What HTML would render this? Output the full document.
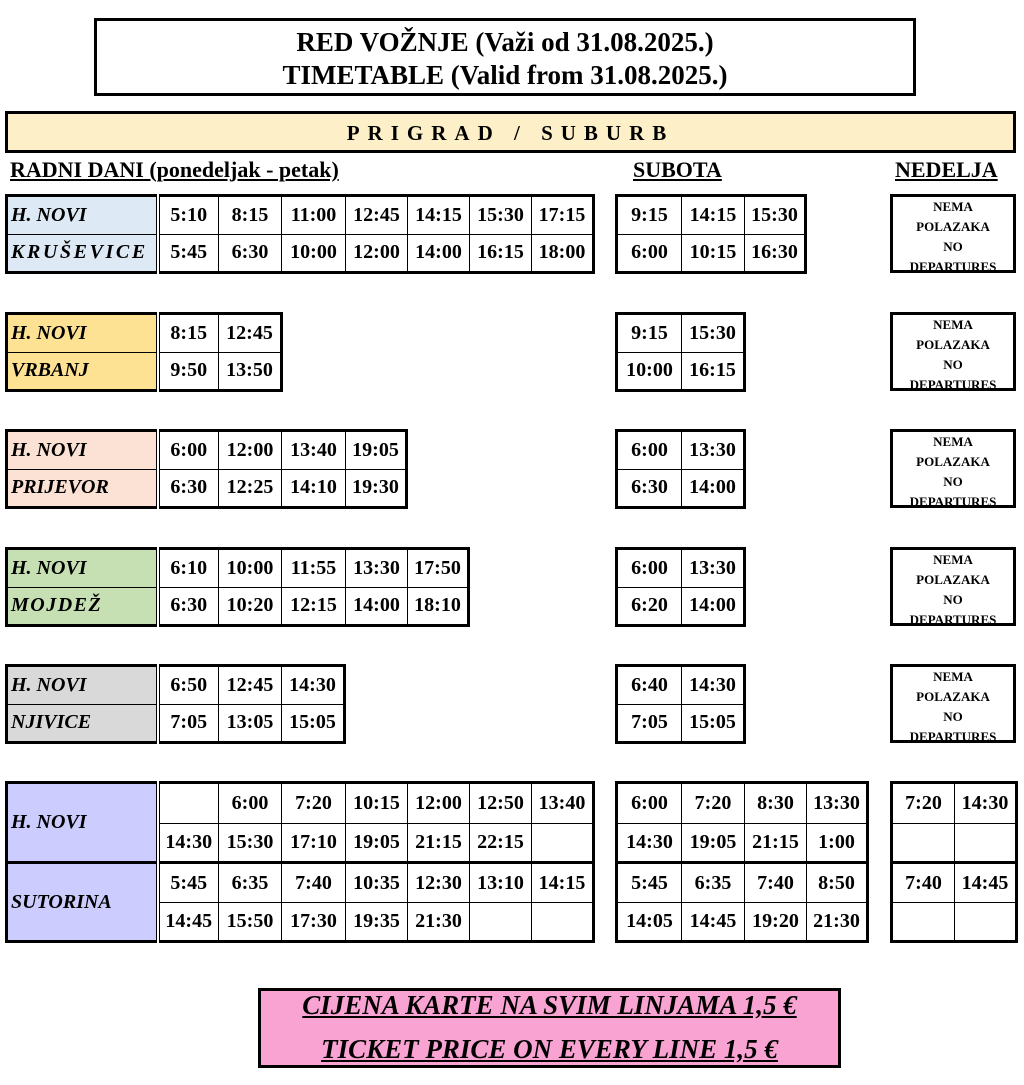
<!DOCTYPE html>
<html><head><meta charset="utf-8"><style>
body{margin:0;width:1024px;height:1085px;background:#fff;position:relative;font-family:"Liberation Serif",serif;font-weight:bold;color:#000;overflow:hidden}
.a{position:absolute}
table{position:absolute;border-collapse:collapse;table-layout:fixed;border:3px solid #000}
td{border:1px solid #000;padding:0;text-align:center;font-size:20px;font-weight:bold;white-space:nowrap;overflow:hidden}
td.l{text-align:left;font-style:italic;padding-left:3px;border-right:4px double #000}
.nema{position:absolute;width:126px;height:79px;box-sizing:border-box;border:3px solid #000;font-size:13px;text-align:center;line-height:20px;overflow:hidden;padding-top:0px}
.h{position:absolute;top:157px;font-size:22px;text-decoration:underline}
</style></head><body>
<div class="a" style="left:94px;top:18px;width:822px;height:78px;box-sizing:border-box;border:3px solid #000;text-align:center;font-size:27px;line-height:33px;padding-top:5px">RED VOŽNJE (Važi od 31.08.2025.)<br>TIMETABLE (Valid from 31.08.2025.)</div>
<div class="a" style="left:5px;top:111px;width:1011px;height:42px;box-sizing:border-box;border:3px solid #000;background:#fdf0c8;text-align:center;font-size:21px;line-height:39px;letter-spacing:8px">PRIGRAD / SUBURB</div>
<div class="h" style="left:10px">RADNI DANI (ponedeljak - petak)</div>
<div class="h" style="left:633px">SUBOTA</div>
<div class="h" style="left:895px">NEDELJA</div>

<!-- block 1 -->
<table style="left:5px;top:194px;width:587px;height:80px"><colgroup><col style="width:151px"><col style="width:61px"><col style="width:63px"><col style="width:64px"><col style="width:62px"><col style="width:62px"><col style="width:62px"><col style="width:62px"></colgroup>
<tr><td class="l" style="background:#dde9f5">H. NOVI</td><td>5:10</td><td>8:15</td><td>11:00</td><td>12:45</td><td>14:15</td><td>15:30</td><td>17:15</td></tr>
<tr><td class="l" style="background:#dde9f5;letter-spacing:2.6px">KRUŠEVICE</td><td>5:45</td><td>6:30</td><td>10:00</td><td>12:00</td><td>14:00</td><td>16:15</td><td>18:00</td></tr></table>
<table style="left:615px;top:194px;width:189px;height:80px"><colgroup><col style="width:65px"><col style="width:63px"><col style="width:61px"></colgroup>
<tr><td>9:15</td><td>14:15</td><td>15:30</td></tr><tr><td>6:00</td><td>10:15</td><td>16:30</td></tr></table>
<div class="nema" style="left:890px;top:194px">NEMA<br>POLAZAKA<br>NO<br>DEPARTURES</div>

<!-- block 2 -->
<table style="left:5px;top:312px;width:275px;height:80px"><colgroup><col style="width:151px"><col style="width:61px"><col style="width:63px"></colgroup>
<tr><td class="l" style="background:#fee293">H. NOVI</td><td>8:15</td><td>12:45</td></tr>
<tr><td class="l" style="background:#fee293">VRBANJ</td><td>9:50</td><td>13:50</td></tr></table>
<table style="left:615px;top:312px;width:128px;height:80px"><colgroup><col style="width:65px"><col style="width:63px"></colgroup>
<tr><td>9:15</td><td>15:30</td></tr><tr><td>10:00</td><td>16:15</td></tr></table>
<div class="nema" style="left:890px;top:312px">NEMA<br>POLAZAKA<br>NO<br>DEPARTURES</div>

<!-- block 3 -->
<table style="left:5px;top:429px;width:400px;height:80px"><colgroup><col style="width:151px"><col style="width:61px"><col style="width:63px"><col style="width:64px"><col style="width:61px"></colgroup>
<tr><td class="l" style="background:#fbe2d4">H. NOVI</td><td>6:00</td><td>12:00</td><td>13:40</td><td>19:05</td></tr>
<tr><td class="l" style="background:#fbe2d4">PRIJEVOR</td><td>6:30</td><td>12:25</td><td>14:10</td><td>19:30</td></tr></table>
<table style="left:615px;top:429px;width:128px;height:80px"><colgroup><col style="width:65px"><col style="width:63px"></colgroup>
<tr><td>6:00</td><td>13:30</td></tr><tr><td>6:30</td><td>14:00</td></tr></table>
<div class="nema" style="left:890px;top:429px">NEMA<br>POLAZAKA<br>NO<br>DEPARTURES</div>

<!-- block 4 -->
<table style="left:5px;top:547px;width:462px;height:80px"><colgroup><col style="width:151px"><col style="width:61px"><col style="width:63px"><col style="width:64px"><col style="width:62px"><col style="width:61px"></colgroup>
<tr><td class="l" style="background:#c6e0b4">H. NOVI</td><td>6:10</td><td>10:00</td><td>11:55</td><td>13:30</td><td>17:50</td></tr>
<tr><td class="l" style="background:#c6e0b4;letter-spacing:1.5px">MOJDEŽ</td><td>6:30</td><td>10:20</td><td>12:15</td><td>14:00</td><td>18:10</td></tr></table>
<table style="left:615px;top:547px;width:128px;height:80px"><colgroup><col style="width:65px"><col style="width:63px"></colgroup>
<tr><td>6:00</td><td>13:30</td></tr><tr><td>6:20</td><td>14:00</td></tr></table>
<div class="nema" style="left:890px;top:547px">NEMA<br>POLAZAKA<br>NO<br>DEPARTURES</div>

<!-- block 5 -->
<table style="left:5px;top:664px;width:338px;height:80px"><colgroup><col style="width:151px"><col style="width:61px"><col style="width:63px"><col style="width:63px"></colgroup>
<tr><td class="l" style="background:#d9d9d9">H. NOVI</td><td>6:50</td><td>12:45</td><td>14:30</td></tr>
<tr><td class="l" style="background:#d9d9d9">NJIVICE</td><td>7:05</td><td>13:05</td><td>15:05</td></tr></table>
<table style="left:615px;top:664px;width:128px;height:80px"><colgroup><col style="width:65px"><col style="width:63px"></colgroup>
<tr><td>6:40</td><td>14:30</td></tr><tr><td>7:05</td><td>15:05</td></tr></table>
<div class="nema" style="left:890px;top:664px">NEMA<br>POLAZAKA<br>NO<br>DEPARTURES</div>

<!-- block 6 -->
<table style="left:5px;top:781px;width:587px;height:159px"><colgroup><col style="width:151px"><col style="width:61px"><col style="width:63px"><col style="width:64px"><col style="width:62px"><col style="width:62px"><col style="width:62px"><col style="width:62px"></colgroup>
<tr style="height:41px"><td class="l" rowspan="2" style="background:#ccccff;border-bottom:3px solid #000">H. NOVI</td><td></td><td>6:00</td><td>7:20</td><td>10:15</td><td>12:00</td><td>12:50</td><td>13:40</td></tr>
<tr style="height:39px;border-bottom:3px solid #000"><td>14:30</td><td>15:30</td><td>17:10</td><td>19:05</td><td>21:15</td><td>22:15</td><td></td></tr>
<tr style="height:40px"><td class="l" rowspan="2" style="background:#ccccff">SUTORINA</td><td>5:45</td><td>6:35</td><td>7:40</td><td>10:35</td><td>12:30</td><td>13:10</td><td>14:15</td></tr>
<tr style="height:39px"><td>14:45</td><td>15:50</td><td>17:30</td><td>19:35</td><td>21:30</td><td></td><td></td></tr></table>
<table style="left:615px;top:781px;width:251px;height:159px"><colgroup><col style="width:65px"><col style="width:63px"><col style="width:62px"><col style="width:61px"></colgroup>
<tr style="height:41px"><td>6:00</td><td>7:20</td><td>8:30</td><td>13:30</td></tr>
<tr style="height:39px;border-bottom:3px solid #000"><td>14:30</td><td>19:05</td><td>21:15</td><td>1:00</td></tr>
<tr style="height:40px"><td>5:45</td><td>6:35</td><td>7:40</td><td>8:50</td></tr>
<tr style="height:39px"><td>14:05</td><td>14:45</td><td>19:20</td><td>21:30</td></tr></table>
<table style="left:890px;top:781px;width:125px;height:159px"><colgroup><col style="width:63px"><col style="width:62px"></colgroup>
<tr style="height:41px"><td>7:20</td><td>14:30</td></tr>
<tr style="height:39px;border-bottom:3px solid #000"><td></td><td></td></tr>
<tr style="height:40px"><td>7:40</td><td>14:45</td></tr>
<tr style="height:39px"><td></td><td></td></tr></table>

<div class="a" style="left:258px;top:988px;width:583px;height:80px;box-sizing:border-box;border:3px solid #000;background:#f9a3d2;overflow:hidden">
<div class="a" style="left:-20px;right:-20px;top:-8px;text-align:center;font-style:italic;text-decoration:underline;font-size:27px;line-height:44px">CIJENA KARTE NA SVIM LINJAMA 1,5 €<br>TICKET PRICE ON EVERY LINE 1,5 €</div></div>
</body></html>
